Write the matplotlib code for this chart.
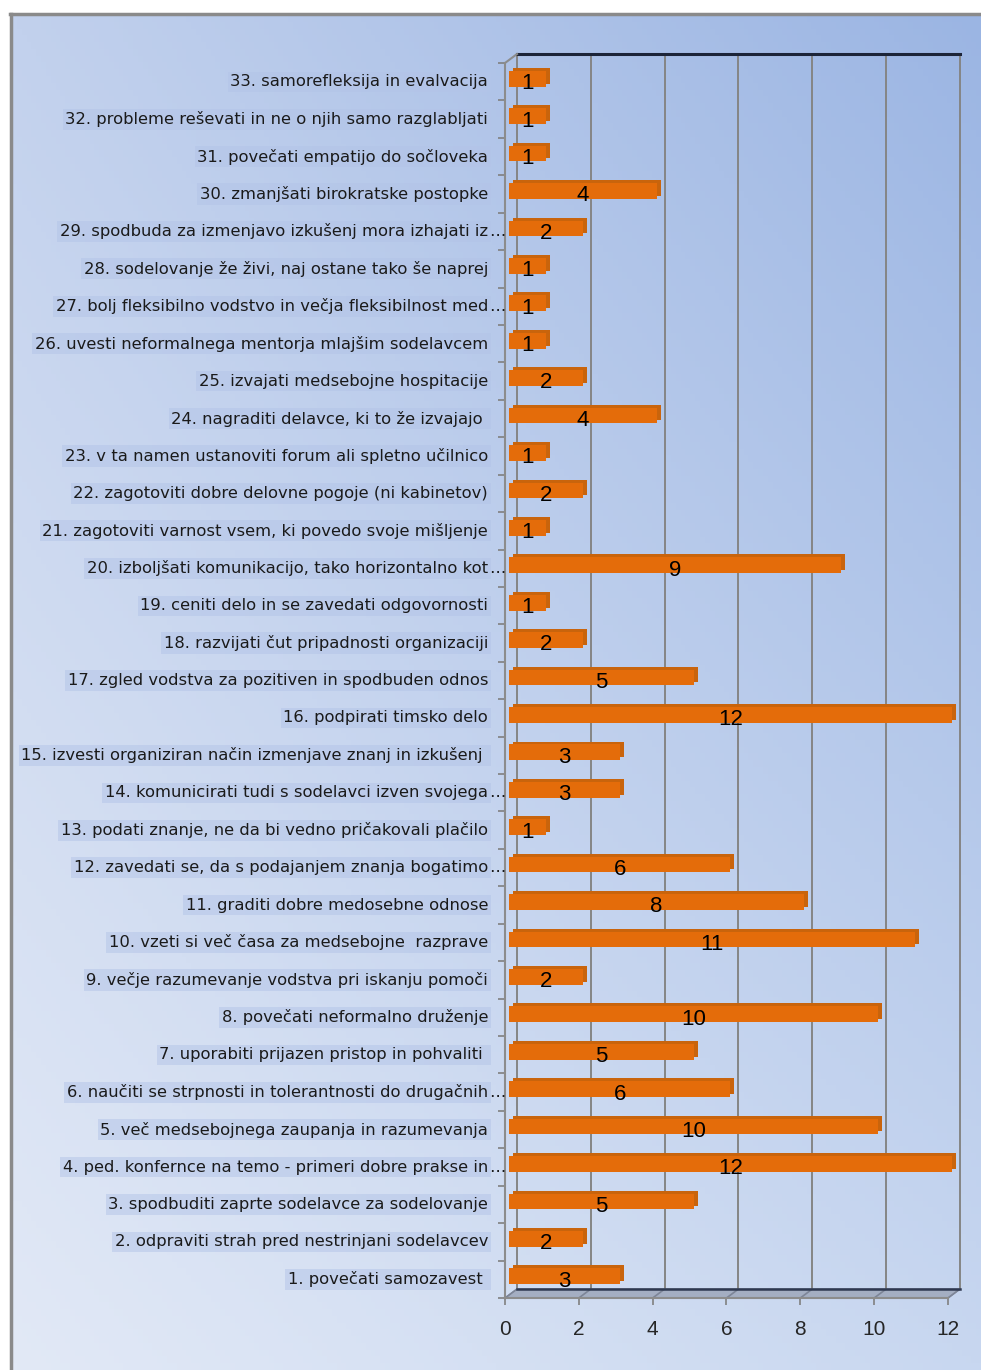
import numpy as np
import matplotlib
matplotlib.use("Agg")
import matplotlib.pyplot as plt
from matplotlib.lines import Line2D
from matplotlib.patches import Polygon

plt.rcParams['font.family'] = ['Liberation Sans', 'DejaVu Sans']

labels = [
    "1. povečati samozavest ",
    "2. odpraviti strah pred nestrinjani sodelavcev",
    "3. spodbuditi zaprte sodelavce za sodelovanje",
    "4. ped. konfernce na temo - primeri dobre prakse in…",
    "5. več medsebojnega zaupanja in razumevanja",
    "6. naučiti se strpnosti in tolerantnosti do drugačnih…",
    "7. uporabiti prijazen pristop in pohvaliti ",
    "8. povečati neformalno druženje",
    "9. večje razumevanje vodstva pri iskanju pomoči",
    "10. vzeti si več časa za medsebojne  razprave",
    "11. graditi dobre medosebne odnose",
    "12. zavedati se, da s podajanjem znanja bogatimo…",
    "13. podati znanje, ne da bi vedno pričakovali plačilo",
    "14. komunicirati tudi s sodelavci izven svojega…",
    "15. izvesti organiziran način izmenjave znanj in izkušenj ",
    "16. podpirati timsko delo",
    "17. zgled vodstva za pozitiven in spodbuden odnos",
    "18. razvijati čut pripadnosti organizaciji",
    "19. ceniti delo in se zavedati odgovornosti",
    "20. izboljšati komunikacijo, tako horizontalno kot…",
    "21. zagotoviti varnost vsem, ki povedo svoje mišljenje",
    "22. zagotoviti dobre delovne pogoje (ni kabinetov)",
    "23. v ta namen ustanoviti forum ali spletno učilnico",
    "24. nagraditi delavce, ki to že izvajajo ",
    "25. izvajati medsebojne hospitacije",
    "26. uvesti neformalnega mentorja mlajšim sodelavcem",
    "27. bolj fleksibilno vodstvo in večja fleksibilnost med…",
    "28. sodelovanje že živi, naj ostane tako še naprej",
    "29. spodbuda za izmenjavo izkušenj mora izhajati iz…",
    "30. zmanjšati birokratske postopke",
    "31. povečati empatijo do sočloveka",
    "32. probleme reševati in ne o njih samo razglabljati",
    "33. samorefleksija in evalvacija",
]
values = [3, 2, 5, 12, 10, 6, 5, 10, 2, 11, 8, 6, 1, 3, 3, 12, 5, 2, 1, 9,
          1, 2, 1, 4, 2, 1, 1, 1, 2, 4, 1, 1, 1]
xticks = [0, 2, 4, 6, 8, 10, 12]

W, H = 981, 1370
fig = plt.figure(figsize=(W / 100, H / 100), dpi=100)
fig.patch.set_facecolor('white')

# soft blue gradient behind everything
bg = fig.add_axes([12 / W, 0, 1 - 12 / W, 1 - 15 / H], zorder=-5)
gx, gy = np.meshgrid(np.linspace(0, 1, 200), np.linspace(0, 1, 200))
tl = np.array([194, 209, 237]) / 255
tr = np.array([155, 181, 227]) / 255
bl = np.array([226, 233, 246]) / 255
br = np.array([200, 215, 240]) / 255
grad = ((1 - gx)[..., None] * (1 - gy)[..., None] * tl + gx[..., None] * (1 - gy)[..., None] * tr
        + (1 - gx)[..., None] * gy[..., None] * bl + gx[..., None] * gy[..., None] * br)
bg.imshow(grad, aspect='auto', extent=[0, 1, 0, 1], origin='upper')
bg.axis('off')

# outer frame
fig.add_artist(Line2D([10 / W, 1], [1 - 14 / H] * 2, color='#8a8a8a', lw=2.5))
fig.add_artist(Line2D([11 / W] * 2, [0, 1 - 14 / H], color='#8a8a8a', lw=2.5))

ax = fig.add_axes([505 / W, 72 / H, 443 / W, 1235 / H])
ax.set_xlim(0, 12)
ax.set_ylim(-0.5, 32.5)
ax.patch.set_alpha(0)

# depth of the pseudo-3d box, in data units
DX, DY = 0.325, 0.24
y = np.arange(len(values))
y0, y1 = -0.5, 32.5

# floor
floor = Polygon([(0, y0), (12, y0), (12 + DX, y0 + DY), (DX, y0 + DY)],
                closed=True, fc='#a4aec2', ec='#8a93a6', lw=1, clip_on=False, zorder=1)
ax.add_patch(floor)
for v in xticks:
    ax.plot([v, v + DX], [y0, y0 + DY], color='#7d8597', lw=1.2, clip_on=False, zorder=1.5)
    ax.plot([v + DX, v + DX], [y0 + DY, y1 + DY], color='#858585', lw=1.4, clip_on=False, zorder=1)
ax.plot([DX, 12 + DX], [y1 + DY, y1 + DY], color='#1c2438', lw=2.2, clip_on=False, zorder=2)
ax.plot([DX, 12 + DX], [y0 + DY, y0 + DY], color='#2e3850', lw=1.8, clip_on=False, zorder=2)
ax.plot([0, DX], [y1, y1 + DY], color='#8c8c8c', lw=1.5, clip_on=False, zorder=2)

# bars: darker back copy gives the top and side faces
ax.barh(y + 2 * DY / 3, values, left=2 * DX / 3, height=0.42, color='#c9640c', zorder=3, clip_on=False)
ax.barh(y + DY / 3, values, left=DX / 3, height=0.42, color='#e46c0a', zorder=4, clip_on=False)

for yi, v in zip(y, values):
    ax.text(DX / 3 + v / 2, yi - 0.05, str(v), ha='center', va='center',
            fontsize=16, color='black', zorder=5)

# category labels with a light highlight box
for yi, lab in zip(y, labels):
    txt = lab.rstrip('…')
    ax.text(-0.46, yi, txt, ha='right', va='center', fontsize=11.8, color='#1a1a1a',
            family='DejaVu Sans',
            bbox=dict(boxstyle='square,pad=0.16', fc=(0.70, 0.77, 0.91), ec='none', alpha=0.5),
            clip_on=False)
    if lab.endswith('…'):
        ax.text(-0.44, yi, '…', ha='left', va='center', fontsize=11.8, color='#1a1a1a',
                family='DejaVu Sans', clip_on=False)

ax.set_xticks(xticks)
ax.set_xticklabels([str(t) for t in xticks], fontsize=15, color='#262626')
ax.set_yticks(np.arange(-0.5, 33, 1))
ax.set_yticklabels([])
ax.tick_params(axis='x', length=5, color='#808080', width=1.2, pad=11)
ax.tick_params(axis='y', length=5, color='#808080', width=1.2)
for s in ['top', 'right']:
    ax.spines[s].set_visible(False)
for s in ['left', 'bottom']:
    ax.spines[s].set_color('#8c8c8c')
    ax.spines[s].set_linewidth(1.5)

fig.savefig('out.png', dpi=100)
